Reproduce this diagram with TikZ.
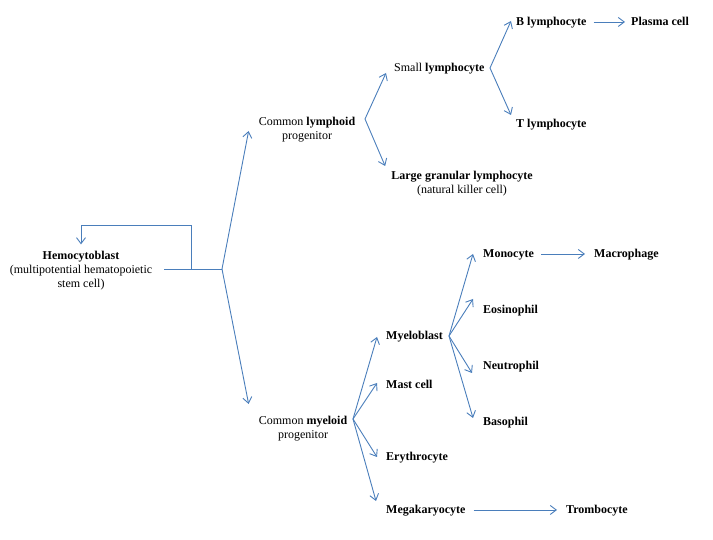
\documentclass[tikz,border=0pt]{standalone}
\usepackage{fontspec}
\setmainfont{Liberation Serif}
\usetikzlibrary{arrows.meta}
\definecolor{linkblue}{HTML}{4A7EBB}
\tikzset{
  lab/.style={anchor=west,inner sep=0pt,text height=8pt,text depth=0pt,font=\fontsize{12}{14}\selectfont},
  cell/.style={lab,font=\fontsize{12}{14}\selectfont\bfseries},
  multi/.style={anchor=center,inner sep=0pt,align=center,font=\fontsize{12}{14}\selectfont},
  conn/.style={draw=linkblue,line width=0.9pt},
  arr/.style={conn,-{Straight Barb[length=6pt,width=9pt]}}
}
\begin{document}
\begin{tikzpicture}[x=1pt,y=1pt]
\useasboundingbox (0,0) rectangle (713,540);
% nodes
\node[multi] (hemo) at (81,269) {\textbf{Hemocytoblast}\\(multipotential hematopoietic\\stem cell)};
\node[multi] (clp) at (307,410) {Common \textbf{lymphoid}\\progenitor};
\node[multi] (cmp) at (303,111.5) {Common \textbf{myeloid}\\progenitor};
\node[lab] (sl) at (394,472) {Small \textbf{lymphocyte}};
\node[cell] (bly) at (516,518) {B lymphocyte};
\node[cell] (pc) at (631,518) {Plasma cell};
\node[cell] (tly) at (516,416) {T lymphocyte};
\node[multi] (lgl) at (462,356.5) {\textbf{Large granular lymphocyte}\\(natural killer cell)};
\node[cell] (mb) at (386,204) {Myeloblast};
\node[cell] (mo) at (483,286) {Monocyte};
\node[cell] (ma) at (594,286) {Macrophage};
\node[cell] (eo) at (483,230) {Eosinophil};
\node[cell] (ne) at (483,174) {Neutrophil};
\node[cell] (ba) at (483,118) {Basophil};
\node[cell] (mc) at (386,155) {Mast cell};
\node[cell] (er) at (386,83) {Erythrocyte};
\node[cell] (mk) at (386,30) {Megakaryocyte};
\node[cell] (tr) at (566,30) {Trombocyte};
% branch points
\coordinate (s0) at (222,271);
\coordinate (j0) at (191,271);
\coordinate (lc) at (191,315);
\coordinate (bl) at (365,421);
\coordinate (bs) at (490,472);
\coordinate (bm) at (353,121);
\coordinate (bmy) at (449,204);
% connectors
\draw[conn] ([xshift=12pt]hemo.east |- s0) -- (s0);
\draw[arr] (j0) -- (lc) -| ([yshift=7pt]hemo.north);
\draw[arr] (s0) -- ([shift={(-10pt,-1pt)}]clp.west);
\draw[arr] (s0) -- ([shift={(-10pt,24.5pt)}]cmp.west);
\draw[arr] (bl) -- ([shift={(-8pt,-5pt)}]sl.west);
\draw[arr] (bl) -- ([shift={(-6pt,17.5pt)}]lgl.west);
\draw[arr] (bs) -- ([shift={(-5pt,1pt)}]bly.west);
\draw[arr] (bs) -- ([shift={(-5pt,9pt)}]tly.west);
\draw[arr] ([xshift=7pt]bly.east) -- ([xshift=-6pt]pc.west);
\draw[arr] (bm) -- ([shift={(-9pt,-1pt)}]mb.west);
\draw[arr] (bm) -- ([shift={(-9pt,2pt)}]mc.west);
\draw[arr] (bm) -- ([shift={(-9pt,0pt)}]er.west);
\draw[arr] (bm) -- ([shift={(-10pt,9pt)}]mk.west);
\draw[arr] (bmy) -- ([shift={(-10pt,0pt)}]mo.west);
\draw[arr] (bmy) -- ([shift={(-10pt,11pt)}]eo.west);
\draw[arr] (bmy) -- ([shift={(-11pt,-7pt)}]ne.west);
\draw[arr] (bmy) -- ([shift={(-10pt,4pt)}]ba.west);
\draw[arr] ([xshift=7pt]mo.east) -- ([xshift=-9pt]ma.west);
\draw[arr] ([xshift=8pt]mk.east) -- ([xshift=-9pt]tr.west);
\end{tikzpicture}
\end{document}
